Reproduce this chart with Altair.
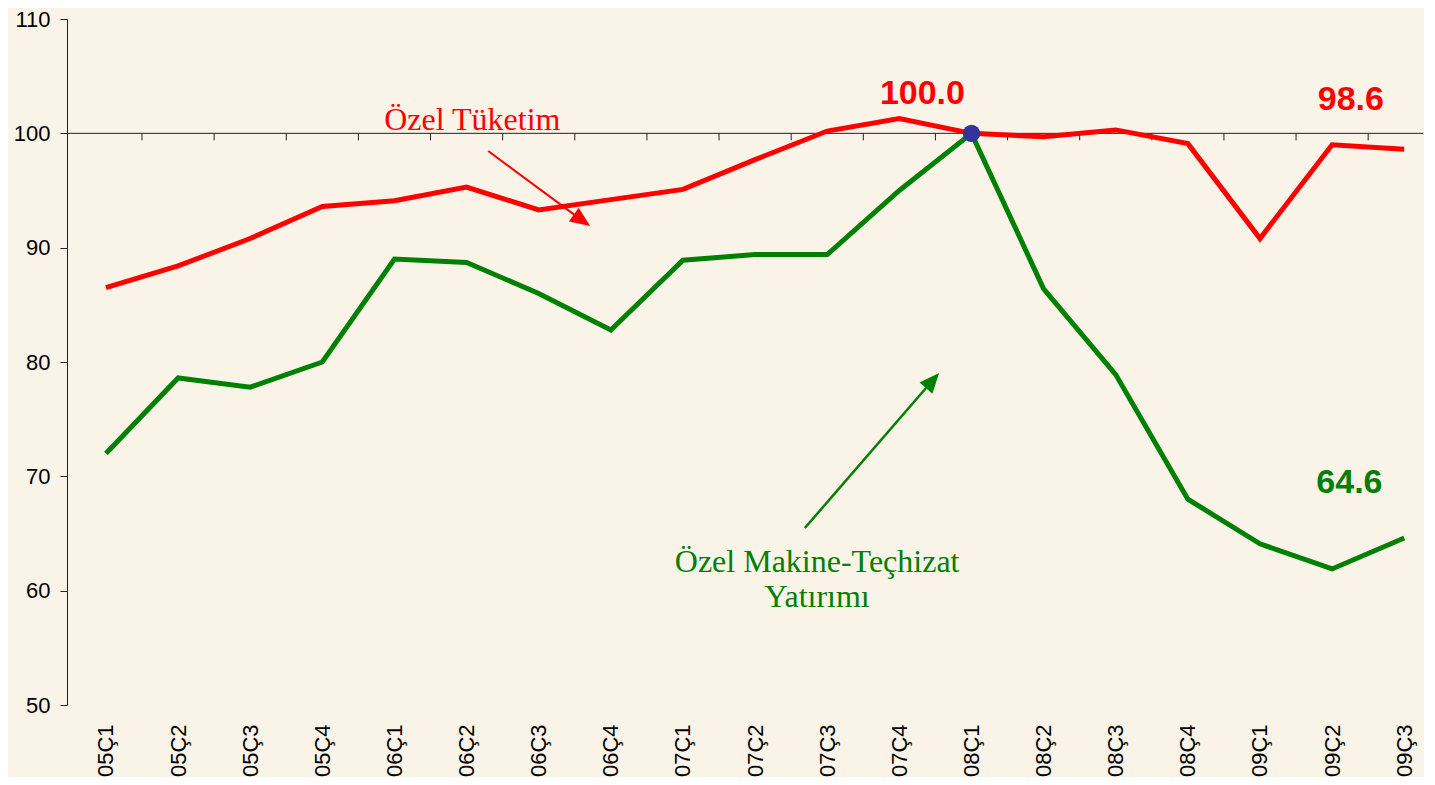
import altair as alt
import pandas as pd

quarters = ["05Ç1", "05Ç2", "05Ç3", "05Ç4", "06Ç1", "06Ç2", "06Ç3", "06Ç4",
            "07Ç1", "07Ç2", "07Ç3", "07Ç4", "08Ç1", "08Ç2", "08Ç3", "08Ç4",
            "09Ç1", "09Ç2", "09Ç3"]
tuketim = [86.5, 88.4, 90.8, 93.6, 94.1, 95.3, 93.3, 94.2, 95.1, 97.7, 100.2,
           101.3, 100.0, 99.7, 100.3, 99.1, 90.8, 99.0, 98.6]
yatirim = [72.0, 78.6, 77.8, 80.0, 89.0, 88.7, 86.0, 82.8, 88.9, 89.4, 89.4,
           95.0, 100.0, 86.4, 78.9, 68.0, 64.1, 61.9, 64.6]
series_names = ["Özel Tüketim", "Özel Makine-Teçhizat Yatırımı"]
series_colors = ["#FF0000", "#008000"]
y_ticks = [50, 60, 70, 80, 90, 100, 110]

# annotation anchors in data units (x = quarter index, y = index value)
red_arrow = {"x": 5.30, "y": 98.45, "x2": 6.60, "y2": 92.39, "angle": 125}
green_arrow = {"x": 9.69, "y": 65.48, "x2": 11.46, "y2": 78.38, "angle": 41}
value_labels = [
    {"x": 11.32, "y": 102.57, "text": "100.0", "color": "#FF0000"},
    {"x": 17.26, "y": 102.04, "text": "98.6", "color": "#FF0000"},
    {"x": 17.24, "y": 68.54, "text": "64.6", "color": "#008000"},
]
series_labels = [
    {"x": 5.08, "y": 100.29, "text": "Özel Tüketim", "color": "#FF0000"},
    {"x": 9.86, "y": 61.63, "text": "Özel Makine-Teçhizat", "color": "#008000"},
    {"x": 9.86, "y": 58.57, "text": "Yatırımı", "color": "#008000"},
]

BG = "#FAF3E8"
FONT = "Liberation Sans"

rows = []
for i, q in enumerate(quarters):
    rows.append({"i": i, "q": q, "v": tuketim[i], "s": series_names[0]})
    rows.append({"i": i, "q": q, "v": yatirim[i], "s": series_names[1]})
df = pd.DataFrame(rows)

label_expr = "[" + ",".join("'" + q + "'" for q in quarters) + "][datum.value]"

xscale = alt.Scale(domain=[-0.54, 18.26], nice=False, zero=False)
yscale = alt.Scale(domain=[50, 110], nice=False, zero=False)

x_axis = alt.Axis(values=list(range(len(quarters))), labelExpr=label_expr,
                  labelAngle=-90, labelFontSize=22, labelFont=FONT,
                  labelColor="black", labelPadding=19, domain=False,
                  ticks=False, grid=False, title=None)
y_axis = alt.Axis(values=y_ticks, labelFontSize=22, labelFont=FONT,
                  labelColor="black", labelPadding=10, tickSize=7,
                  tickColor="#222", domainColor="#222", grid=False, title=None)

lines = alt.Chart(df).mark_line(strokeWidth=5).encode(
    x=alt.X("i:Q", scale=xscale, axis=x_axis),
    y=alt.Y("v:Q", scale=yscale, axis=y_axis),
    color=alt.Color("s:N", scale=alt.Scale(domain=series_names, range=series_colors), legend=None),
    detail="s:N",
)

base_line = alt.Chart(pd.DataFrame({"v": [100]})).mark_rule(color="#222", strokeWidth=1).encode(
    y=alt.Y("v:Q", scale=yscale)
)

bounds = pd.DataFrame({"b": [i + 0.5 for i in range(len(quarters) - 1)], "v": [100] * (len(quarters) - 1)})
ticks = alt.Chart(bounds).mark_rule(color="#222", strokeWidth=1, y2Offset=7).encode(
    x=alt.X("b:Q", scale=xscale),
    y=alt.Y("v:Q", scale=yscale),
    y2="v:Q",
)

dot_df = pd.DataFrame({"i": [quarters.index("08Ç1")], "v": [tuketim[quarters.index("08Ç1")]]})
dot = alt.Chart(dot_df).mark_point(filled=True, size=300, color="#333399", opacity=1).encode(
    x=alt.X("i:Q", scale=xscale), y=alt.Y("v:Q", scale=yscale)
)

arrows_df = pd.DataFrame([
    dict(red_arrow, c="#FF0000", w=2),
    dict(green_arrow, c="#008000", w=2.5),
])
arrow_lines = alt.Chart(arrows_df).mark_rule().encode(
    x=alt.X("x:Q", scale=xscale), y=alt.Y("y:Q", scale=yscale),
    x2="x2:Q", y2="y2:Q",
    color=alt.Color("c:N", scale=None),
    strokeWidth=alt.StrokeWidth("w:Q", scale=None),
)
arrow_heads = alt.Chart(arrows_df).mark_point(
    shape="M0,-1L0.85,1L-0.85,1Z", filled=True, size=400, opacity=1
).encode(
    x=alt.X("x2:Q", scale=xscale), y=alt.Y("y2:Q", scale=yscale),
    color=alt.Color("c:N", scale=None),
    angle=alt.Angle("angle:Q", scale=None),
)

vals = alt.Chart(pd.DataFrame(value_labels)).mark_text(
    font=FONT, fontSize=34, fontWeight="bold", align="center", baseline="alphabetic"
).encode(
    x=alt.X("x:Q", scale=xscale), y=alt.Y("y:Q", scale=yscale),
    text="text:N", color=alt.Color("color:N", scale=None),
)

names = alt.Chart(pd.DataFrame(series_labels)).mark_text(
    font="Liberation Serif", fontSize=32, align="center", baseline="alphabetic"
).encode(
    x=alt.X("x:Q", scale=xscale), y=alt.Y("y:Q", scale=yscale),
    text="text:N", color=alt.Color("color:N", scale=None),
)

chart = alt.layer(
    base_line, ticks, lines, arrow_lines, arrow_heads, dot, vals, names
).properties(
    width=1356, height=686, background=BG,
    padding={"left": 5, "top": 0, "right": 0, "bottom": 0},
).configure_view(stroke=None)

chart.save("out.html", embed_options={"renderer": "svg", "actions": False})
